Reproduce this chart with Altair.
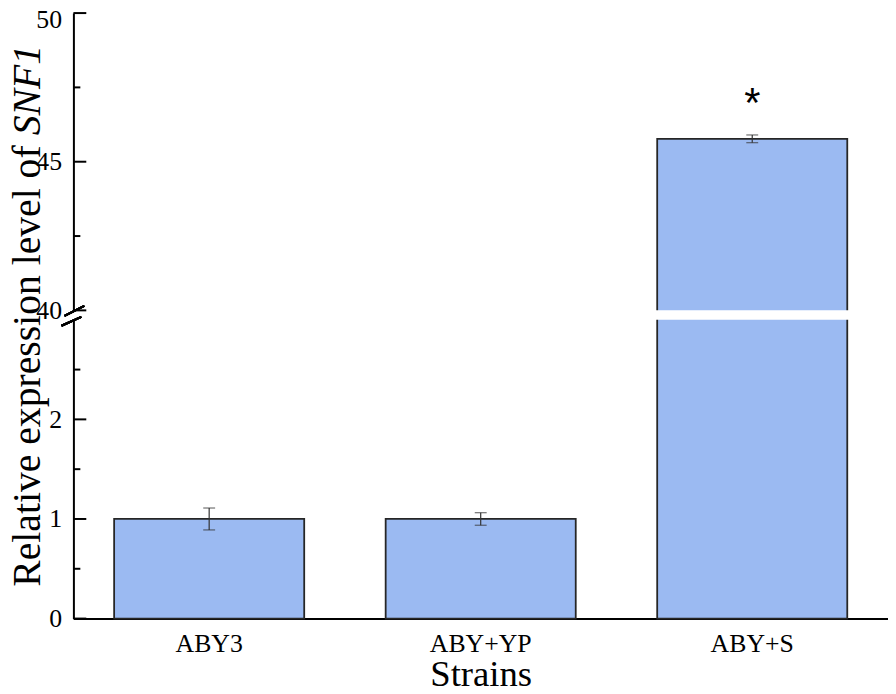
import altair as alt
import pandas as pd

# ---- data ----
strains = ["ABY3", "ABY+YP", "ABY+S"]
means = [1.0, 1.0, 45.77]
errors = [0.11, 0.063, 0.13]
sig_marks = ["", "", "*"]
sig_pos = [None, None, 46.5]

major_ticks = [0, 1, 2, 40, 45, 50]
minor_ticks = [0.5, 1.5, 2.5, 42.5, 47.5]
break_lo, break_hi, y_max = 3, 40, 50

# ---- layout ----
W, H = 822, 611
GAP = 9.5
UPPER_H = 300
FONT = "Liberation Serif"
BAR_FILL = "#9BBAF2"
DARK = "#262626"
XT_FS = 37   # x-axis title size
YT_FS = 40   # y-axis title size

y_scale = alt.Scale(domain=[0, break_lo, break_hi, y_max],
                    range=[H, UPPER_H + GAP, UPPER_H, 0], zero=False, nice=False)
x_scale = alt.Scale(domain=strains, paddingInner=0.3, paddingOuter=0.15)

df = pd.DataFrame({
    "strain": strains,
    "mean": means,
    "lo": [m - e for m, e in zip(means, errors)],
    "hi": [m + e for m, e in zip(means, errors)],
    "sig": sig_marks,
    "sigpos": sig_pos,
})
df["gap_lo"] = break_lo
df["gap_hi"] = break_hi

x_axis = alt.Axis(ticks=False, labelAngle=0, labelFont=FONT, labelFontSize=26,
                  labelColor="black", labelPadding=12, domainColor="black",
                  domainWidth=2, title="Strains", titleFont=FONT, titleFontSize=XT_FS,
                  titleFontWeight="normal", titleColor="black", titlePadding=1,
                  grid=False)
y_axis = alt.Axis(values=major_ticks, ticks=False, grid=False, labelFont=FONT,
                  labelFontSize=26, labelColor="black", labelPadding=12,
                  labelOffset={"condition": {"test": f"datum.value == {y_max}", "value": 7},
                               "value": 0},
                  domainColor="black", domainWidth=2, title=None)


def X():
    return alt.X("strain:N", sort=strains, scale=x_scale, axis=x_axis, title="Strains")


def Y(field):
    return alt.Y(field, scale=y_scale, axis=y_axis, title=None)


bars = alt.Chart(df).mark_bar(color=BAR_FILL, stroke=DARK, strokeWidth=1.8).encode(
    x=X(), y=Y("mean:Q"))

step = W / (len(strains) - 0.3 + 2 * 0.15)
band = step * 0.7
gap_cover = alt.Chart(df).transform_filter(alt.datum.mean > break_hi).mark_bar(
    color="white", size=band + 5).encode(x=X(), y=Y("gap_lo:Q"), y2="gap_hi:Q")

err_rule = alt.Chart(df).mark_rule(color="#333333", strokeWidth=1.2).encode(
    x=X(), y=Y("lo:Q"), y2="hi:Q")
cap_lo = alt.Chart(df).mark_tick(color="#333333", thickness=1.2, size=12).encode(
    x=X(), y=Y("lo:Q"))
cap_hi = alt.Chart(df).mark_tick(color="#333333", thickness=1.2, size=12).encode(
    x=X(), y=Y("hi:Q"))

star = alt.Chart(df).transform_filter("isValid(datum.sigpos)").mark_text(
    font="Liberation Sans", fontSize=42, color="black", baseline="alphabetic").encode(
    x=X(), y=Y("sigpos:Q"), text="sig:N")

major_df = pd.DataFrame({"v": major_ticks})
minor_df = pd.DataFrame({"v": minor_ticks})
major_rules = alt.Chart(major_df).mark_rule(color="black", strokeWidth=2).encode(
    y=Y("v:Q"), x=alt.value(0), x2=alt.value(13))
minor_rules = alt.Chart(minor_df).mark_rule(color="black", strokeWidth=2).encode(
    y=Y("v:Q"), x=alt.value(0), x2=alt.value(7))

# axis break: white out the domain line in the gap, then two slashes
axis_gap = alt.Chart(major_df).mark_rule(color="white", strokeWidth=5).encode(
    x=alt.value(0), y=alt.value(UPPER_H + 0.5), y2=alt.value(UPPER_H + GAP))
slash_top = alt.Chart(major_df).mark_rule(color="black", strokeWidth=2).encode(
    x=alt.value(-9), y=alt.value(UPPER_H + 5.5), x2=alt.value(11), y2=alt.value(UPPER_H - 4.5))
slash_bot = alt.Chart(major_df).mark_rule(color="black", strokeWidth=2).encode(
    x=alt.value(-12), y=alt.value(UPPER_H + GAP + 6), x2=alt.value(8), y2=alt.value(UPPER_H + GAP - 3))

# y-axis title with italic gene name (Times metrics, em/1000)
widths = {"R": 667, "e": 444, "l": 278, "a": 444, "t": 278, "i": 278, "v": 500, " ": 250,
          "x": 500, "p": 500, "r": 333, "s": 389, "o": 500, "n": 500, "f": 333}
title_a = "Relative expression level of "
title_b = "SNF1"
wa = sum(widths[c] for c in title_a) / 1000 * YT_FS
wb = (500 + 667 + 611 + 500) / 1000 * YT_FS
y_start = H / 2 + (wa + wb) / 2
title_df = pd.DataFrame({"a": [title_a], "b": [title_b]})
t1 = alt.Chart(title_df).mark_text(font=FONT, fontSize=YT_FS, angle=270, align="left",
                                   baseline="alphabetic", color="black").encode(
    x=alt.value(-34), y=alt.value(y_start), text="a:N")
t2 = alt.Chart(title_df).mark_text(font=FONT, fontSize=YT_FS, angle=270, align="left",
                                   baseline="alphabetic", fontStyle="italic", color="black").encode(
    x=alt.value(-34), y=alt.value(y_start - wa), text="b:N")

chart = alt.layer(
    bars, gap_cover, err_rule, cap_lo, cap_hi, star,
    major_rules, minor_rules, axis_gap, slash_top, slash_bot, t1, t2,
).properties(
    width=W, height=H,
    background="white",
    autosize=alt.AutoSizeParams(type="none"),
    padding={"left": 66, "top": 2, "right": 0, "bottom": 73},
).configure_view(stroke=None)

chart.save("out.html", embed_options={"renderer": "svg", "actions": False})
